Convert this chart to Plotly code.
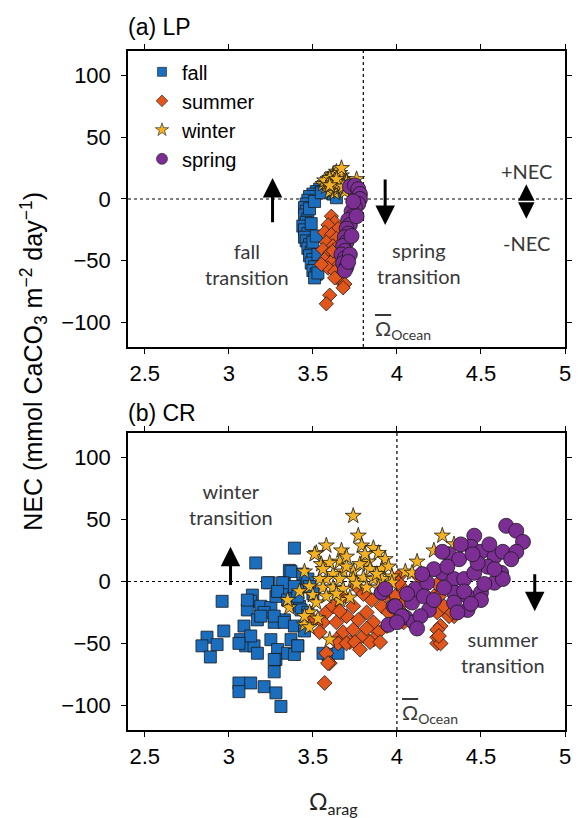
import plotly.graph_objects as go

# ---------------- data ----------------
# Panel (a) LP
fall_a_x = [3.62, 3.60, 3.58, 3.56, 3.54, 3.52, 3.50, 3.48, 3.47, 3.46, 3.45, 3.46, 3.45, 3.47, 3.46, 3.44, 3.45, 3.47, 3.45, 3.46,
            3.48, 3.47, 3.49, 3.48, 3.50, 3.49, 3.51, 3.50, 3.52, 3.51, 3.53, 3.50, 3.49, 3.48, 3.51, 3.55, 3.64, 3.53, 3.52]
fall_a_y = [4, 7, 9, 10, 8, 6, 4, 2, -1, -4, -7, -10, -13, -16, -19, -22, -25, -28, -31, -34,
            -37, -40, -43, -46, -49, -52, -55, -58, -61, -64, -60, -35, -20, -8, -2, 5, 1, -45, -30]

summer_a_x = [3.61, 3.63, 3.59, 3.65, 3.57, 3.61, 3.64, 3.58, 3.62, 3.56, 3.60, 3.64, 3.57, 3.61, 3.65, 3.59, 3.63, 3.67,
              3.66, 3.69, 3.68, 3.60, 3.58, 3.62, 3.66, 3.55, 3.63]
summer_a_y = [-14, -19, -21, -24, -27, -29, -32, -35, -38, -41, -44, -46, -49, -51, -54, -56, -59, -61,
              -66, -69, -72, -78, -85, -42, -37, -53, -64]

winter_a_x = [3.56, 3.58, 3.60, 3.61, 3.62, 3.63, 3.64, 3.65, 3.66, 3.67, 3.68, 3.69, 3.70, 3.62, 3.64, 3.66, 3.60, 3.63, 3.65, 3.67,
              3.59, 3.61, 3.64, 3.66, 3.68, 3.63, 3.65, 3.62, 3.67, 3.70, 3.72, 3.57, 3.60, 3.64, 3.66, 3.69, 3.71, 3.76, 3.74, 3.67,
              3.61, 3.63, 3.65, 3.62, 3.66, 3.64, 3.68, 3.60]
winter_a_y = [12, 10, 14, 8, 16, 11, 18, 13, 9, 15, 12, 7, 10, 20, 22, 17, 6, 5, 14, 19,
              16, 13, 9, 11, 16, 13, 8, 18, 11, 14, 9, 15, 17, 12, 21, 6, 12, 16, 5, 25,
              11, 15, 10, 13, 13, 16, 10, 11]

spring_a_x = [3.72, 3.75, 3.77, 3.78, 3.78, 3.77, 3.75, 3.73, 3.74, 3.71, 3.72, 3.70, 3.71, 3.69, 3.70, 3.68, 3.69, 3.67,
              3.69, 3.68, 3.70, 3.69, 3.72, 3.73, 3.76, 3.74, 3.71]
spring_a_y = [10, 11, 8, 4, 0, -4, -7, -10, -14, -17, -21, -24, -28, -31, -35, -38, -42, -45,
              -48, -52, -55, -58, -45, -30, -14, -2, -51]

# Panel (b) CR
fall_b_x = [3.39, 3.16, 3.36, 2.96, 3.24, 3.33, 3.14, 2.97, 2.87, 2.84, 2.93, 2.89, 3.13, 3.11, 3.19, 3.25, 3.28, 3.35, 3.39, 3.45,
            3.42, 3.17, 3.21, 3.27, 3.33, 3.07, 3.10, 3.15, 3.25, 3.37, 3.41, 3.17, 3.29, 3.06, 3.13, 3.06, 3.21, 3.28, 3.31, 3.27,
            3.28, 3.35, 3.39, 3.41, 3.59, 3.65, 3.37, 3.44, 3.47, 3.48, 3.23, 3.32, 3.29, 3.39, 3.35, 3.41, 3.43, 3.11, 3.19, 3.27,
            3.33, 3.39, 3.09, 3.13, 3.06, 3.27, 3.56, 3.50, 3.47, 3.45]
fall_b_y = [27, 15, 9, -16, -1, -1, -11, -40, -45, -52, -51, -61, -16, -23, -20, -21, -12, -9, -12, -1,
            -20, -31, -25, -33, -31, -47, -52, -52, -47, -47, -52, -58, -55, -82, -82, -89, -85, -90, -101, -73,
            -63, -58, -59, -52, -59, -58, 8, 6, 2, -4, -1, -1, -8, -4, -15, -12, -23, -15, -28, -28,
            -33, -36, -36, -44, -50, -63, -58, -10, -25, -40]

summer_b_x = [3.76, 3.68, 3.74, 3.58, 3.62, 3.56, 3.64, 3.68, 3.74, 3.77, 3.82, 3.86, 3.89, 3.86, 3.80, 3.72, 3.58, 3.60, 3.91, 3.95,
              3.97, 3.91, 3.54, 3.64, 3.50, 3.57, 3.59, 3.65, 3.70, 3.75, 3.84, 3.90, 4.24, 4.03, 4.05, 4.03, 4.22, 4.24, 4.26, 4.24,
              4.26, 4.32, 4.34, 4.01, 4.13, 4.01, 3.99, 4.02, 4.04, 4.24, 4.25, 4.28, 4.31, 4.33, 4.24, 4.25, 3.85, 3.70, 3.80, 3.66,
              3.94, 3.78, 3.82]
summer_b_y = [-4, -12, -20, -25, -20, -33, -33, -41, -39, -31, -25, -33, -41, -47, -44, -49, -58, -66, -20, -25,
              -15, -9, -41, -47, -31, -82, -66, -50, -50, -49, -49, -49, -50, -5, -15, -25, -12, -25, -36, -45,
              -50, -23, -28, 4, 4, -1, -12, -25, -33, -2, -12, -20, -28, -25, -39, -44, -15, -28, -10, -24,
              -36, -55, -38]

winter_b_x = [3.74, 3.77, 3.79, 3.58, 3.67, 3.52, 3.55, 3.66, 3.86, 3.89, 3.83, 3.93, 3.84, 3.91, 3.95, 3.97, 3.68, 3.74, 3.45, 3.62,
              3.58, 3.54, 3.66, 3.74, 3.80, 3.86, 3.91, 3.97, 3.48, 3.56, 3.62, 3.68, 3.82, 3.89, 3.50, 3.58, 3.66, 3.72, 3.52, 3.48,
              3.45, 3.48, 3.36, 3.60, 3.51, 3.35, 3.45, 4.27, 4.34, 4.22, 4.12, 4.05, 4.09, 3.70, 3.78, 3.88, 3.60, 3.64, 3.76, 3.93,
              3.53, 3.42, 3.56, 3.70, 3.81]
winter_b_y = [53, 37, 29, 29, 25, 23, 14, 16, 27, 23, 16, 18, 10, 10, 12, 4, 8, 8, 8, 6,
              2, 2, 2, 2, 3, 2, 2, -1, -4, -5, -5, -6, -5, -5, -11, -12, -15, -13, -17, -25,
              -35, -37, -21, -47, 22, -15, -28, 37, 30, 25, 16, 8, 7, 12, 14, 6, 15, -10, -2, -8,
              -30, -8, 10, 20, 22]

spring_b_x = [3.91, 3.95, 3.98, 4.05, 4.10, 4.09, 4.11, 4.18, 4.16, 4.19, 4.14, 4.27, 4.31, 4.37, 4.46, 4.44, 4.50, 4.58, 4.54, 4.62,
              4.63, 4.65, 4.71, 4.75, 4.71, 4.34, 4.40, 4.46, 4.34, 4.42, 4.50, 4.58, 4.63, 4.34, 4.42, 4.50, 4.27, 3.93, 3.99, 4.03,
              4.22, 4.30, 4.38, 4.48, 4.55, 4.36, 4.28, 4.22, 4.06, 4.15, 4.52, 4.40, 4.45, 4.00, 4.12, 4.44, 4.58, 4.68]
spring_b_y = [-9, -35, -20, -29, -33, -17, -6, -1, -12, -23, -28, 7, 22, 18, 37, 28, 24, 20, 12, 7,
              24, 45, 41, 32, 24, 2, 2, 7, -9, -12, -9, -1, 2, -17, -23, -15, 24, -6, -20, -28,
              10, 12, 30, 15, 30, -25, -5, -15, -10, 6, -2, -8, 22, -33, -38, -18, 10, 18]

season_names = ["fall", "summer", "winter", "spring"]
x_tick_vals = [2.5, 3, 3.5, 4, 4.5, 5]
x_tick_text = ["2.5", "3", "3.5", "4", "4.5", "5"]
y_tick_vals = [-100, -50, 0, 50, 100]
omega_ocean = [3.8, 4.0]  # panel a (LP), panel b (CR)

# ---------------- style ----------------
colors = {"fall": "#1B6EBE", "summer": "#E2561C", "winter": "#F4B223", "spring": "#7D2E95"}
symbols = {"fall": "square", "summer": "diamond", "winter": "star", "spring": "circle"}
sizes_a = {"fall": 12, "summer": 11, "winter": 12, "spring": 15}
sizes_b = {"fall": 12, "summer": 11.5, "winter": 12, "spring": 15}
legend_sizes = {"fall": 9, "summer": 9, "winter": 10, "spring": 11}
SANS = "Liberation Sans, Arial, Helvetica, sans-serif"
HUM = "Lato, Open Sans, sans-serif"
TXT = "#383838"

fig = go.Figure()

data_a = {"fall": (fall_a_x, fall_a_y), "summer": (summer_a_x, summer_a_y),
          "winter": (winter_a_x, winter_a_y), "spring": (spring_a_x, spring_a_y)}
data_b = {"fall": (fall_b_x, fall_b_y), "summer": (summer_b_x, summer_b_y),
          "winter": (winter_b_x, winter_b_y), "spring": (spring_b_x, spring_b_y)}

for s in season_names:
    xs, ys = data_a[s]
    fig.add_trace(go.Scatter(x=xs, y=ys, mode="markers", xaxis="x", yaxis="y", showlegend=False,
                             marker=dict(symbol=symbols[s], color=colors[s], size=sizes_a[s],
                                         line=dict(color="#1a1a1a", width=0.8))))
for s in season_names:
    xs, ys = data_b[s]
    fig.add_trace(go.Scatter(x=xs, y=ys, mode="markers", xaxis="x2", yaxis="y2", showlegend=False,
                             marker=dict(symbol=symbols[s], color=colors[s], size=sizes_b[s],
                                         line=dict(color="#1a1a1a", width=0.8))))
# legend entries
for s in season_names:
    fig.add_trace(go.Scatter(x=[None], y=[None], mode="markers", name=s, xaxis="x", yaxis="y",
                             marker=dict(symbol=symbols[s], color=colors[s], size=legend_sizes[s],
                                         line=dict(color="#1a1a1a", width=0.6))))

xmin, xmax = 2.4, 5.0
ymin, ymax = -120, 120

def xax(anchor):
    return dict(domain=[0, 1], range=[xmin, xmax], anchor=anchor, tickvals=x_tick_vals, ticktext=x_tick_text,
                showline=True, linecolor="black", linewidth=1.5, mirror="allticks", ticks="outside",
                ticklen=5, tickwidth=1.2, tickcolor="black", showgrid=False, zeroline=False,
                tickfont=dict(family=SANS, size=22, color="black"), ticklabelstandoff=1)

def yax(anchor, dom):
    return dict(domain=dom, range=[ymin, ymax], anchor=anchor, tickvals=y_tick_vals,
                showline=True, linecolor="black", linewidth=1.5, mirror="allticks", ticks="outside",
                ticklen=5, tickwidth=1.2, tickcolor="black", showgrid=False, zeroline=False,
                tickfont=dict(family=SANS, size=22, color="black"), ticklabelstandoff=6)

shapes = []
for xr, yr, om in [("x", "y", omega_ocean[0]), ("x2", "y2", omega_ocean[1])]:
    shapes.append(dict(type="line", xref=xr, yref=yr, x0=xmin, x1=xmax, y0=0, y1=0,
                       line=dict(color="black", width=1.2, dash="dot"), layer="below"))
    shapes.append(dict(type="line", xref=xr, yref=yr, x0=om, x1=om, y0=ymin, y1=ymax,
                       line=dict(color="black", width=1.2, dash="dot"), layer="below"))

ann = []
def text(xr, yr, x, y, t, size=20, xanchor="center", yanchor="middle", font=HUM, color=TXT):
    ann.append(dict(xref=xr, yref=yr, x=x, y=y, text=t, showarrow=False, xanchor=xanchor, yanchor=yanchor,
                    font=dict(family=font, size=size, color=color)))

def arrow(xr, yr, x, y0, y1, size=1.3):
    ann.append(dict(xref=xr, yref=yr, axref=xr, ayref=yr, x=x, y=y1, ax=x, ay=y0, text="",
                    showarrow=True, arrowhead=2, arrowsize=size, arrowwidth=3, arrowcolor="black"))

# panel titles
text("paper", "paper", -0.005, 1.036, "(a) LP", size=23, xanchor="left", font=SANS, color="black")
text("paper", "paper", -0.005, 0.467, "(b) CR", size=23, xanchor="left", font=SANS, color="black")

# panel a annotations
arrow("x", "y", 3.26, -20, 17)
text("x", "y", 3.11, -53, "fall<br>transition")
arrow("x", "y", 3.93, 17, -21)
text("x", "y", 4.13, -52, "spring<br>transition")
arrow("x", "y", 4.77, -2, 12, size=1.1)
arrow("x", "y", 4.77, -2, -16, size=1.1)
text("x", "y", 4.77, 23, "+NEC")
text("x", "y", 4.77, -36, "-NEC")
text("x", "y", 3.86, -106, "<span style='text-decoration:overline'>Ω</span><sub>Ocean</sub>", size=20, xanchor="left")

# panel b annotations
text("x2", "y2", 3.01, 63, "winter<br>transition")
arrow("x2", "y2", 3.01, -4, 28)
arrow("x2", "y2", 4.82, 7, -24)
text("x2", "y2", 4.63, -57, "summer<br>transition")
text("x2", "y2", 4.02, -107, "<span style='text-decoration:overline'>Ω</span><sub>Ocean</sub>", size=20, xanchor="left")

# axis titles
ann.append(dict(xref="paper", yref="paper", x=-0.216, y=0.5434, text="NEC (mmol CaCO<sub>3</sub> m<sup>−2</sup> day<sup>−1</sup>)",
                showarrow=False, textangle=-90, xanchor="center", yanchor="middle",
                font=dict(family=SANS, size=25, color="black")))
text("paper", "paper", 0.47, -0.107, "Ω<sub>arag</sub>", size=23, color="#222222")

fig.update_layout(
    width=579, height=818,
    margin=dict(l=128, r=7, t=51, b=88),
    paper_bgcolor="white", plot_bgcolor="white",
    xaxis=xax("y"), yaxis=yax("x", [0.5641, 1.0]),
    xaxis2=xax("y2"), yaxis2=yax("x2", [0.0, 0.4374]),
    shapes=shapes, annotations=ann,
    legend=dict(x=0.032, y=0.998, xanchor="left", yanchor="top", bgcolor="rgba(0,0,0,0)",
                font=dict(family=SANS, size=20, color="black"), itemsizing="trace", tracegroupgap=0),
    showlegend=True,
)

fig.write_html("out.html", config={"displayModeBar": False},
               post_script="document.body.style.margin='0px';document.body.style.padding='0px';document.body.style.overflow='hidden';")
